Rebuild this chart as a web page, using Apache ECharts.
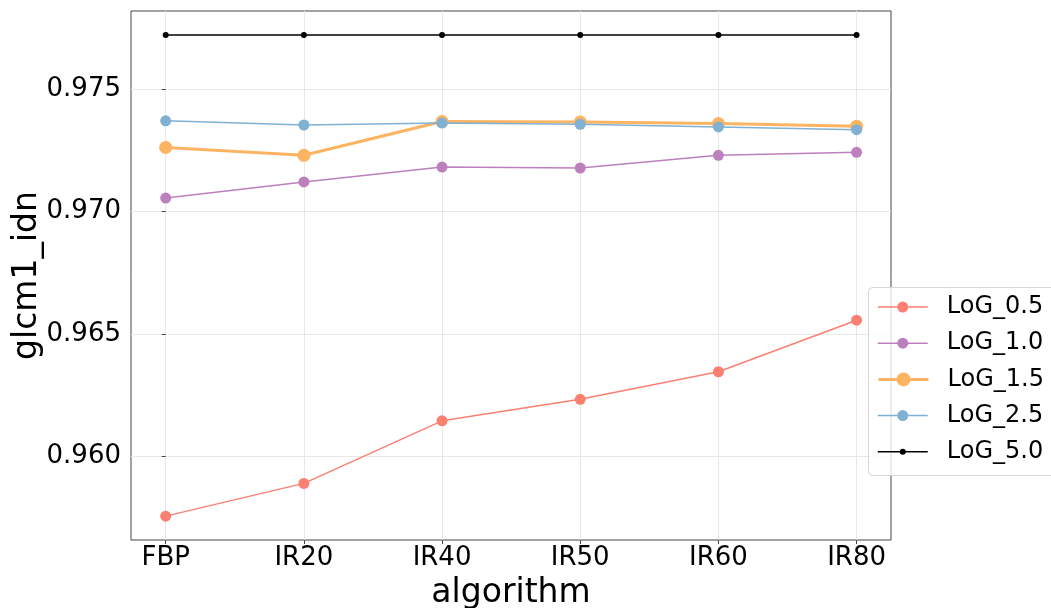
<!DOCTYPE html>
<html><head><meta charset="utf-8">
<script src="https://cdn.jsdelivr.net/npm/echarts@6/dist/echarts.min.js"></script>
<style>html,body{margin:0;padding:0;background:#fff}#c{width:1051px;height:608px}</style>
</head><body><div id="c"></div>
<script>
const categories = ["FBP", "IR20", "IR40", "IR50", "IR60", "IR80"];
const yTicks = [0.960, 0.965, 0.970, 0.975];
const log05 = [0.95754, 0.95888, 0.96144, 0.96232, 0.96345, 0.96556];
const log10 = [0.97056, 0.97122, 0.97183, 0.97179, 0.97231, 0.97243];
const log15 = [0.97263, 0.97231, 0.97369, 0.97367, 0.97361, 0.97350];
const log25 = [0.97372, 0.97355, 0.97363, 0.97358, 0.97347, 0.97336];
const log50 = [0.97723, 0.97723, 0.97723, 0.97723, 0.97723, 0.97723];
const seriesNames = ["LoG_0.5", "LoG_1.0", "LoG_1.5", "LoG_2.5", "LoG_5.0"];

const FONT = "DejaVu Sans";
const pts = arr => arr.map((v, i) => [i, v]);
const idx = categories.map((c, i) => i);

const styles = [
  {color: "#FB8072", lw: 1.5, sym: 11, legSym: 11},
  {color: "#BC80BD", lw: 1.5, sym: 11, legSym: 11},
  {color: "#FDB462", lw: 3, sym: 13, legSym: 14},
  {color: "#80B1D3", lw: 1.5, sym: 11, legSym: 11},
  {color: "#000000", lw: 1.5, sym: 6, legSym: 6}
];
const datas = [log05, log10, log15, log25, log50];

const series = datas.map((d, k) => ({
  name: seriesNames[k], type: "line", data: pts(d),
  symbol: "circle", symbolSize: styles[k].sym,
  lineStyle: {color: styles[k].color, width: styles[k].lw},
  itemStyle: {color: styles[k].color},
  emphasis: {disabled: true}, animation: false, z: 3 + k
}));

const legendTop = 287, legendFirst = 20, legendStep = 36.2;
const legends = seriesNames.map((n, k) => ({
  data: [{name: n, lineStyle: {width: styles[k].lw}}],
  orient: "vertical", left: 877, top: legendTop + legendFirst + k * legendStep - 12,
  padding: 0, itemWidth: 50, itemHeight: styles[k].legSym / 0.8,
  selectedMode: false, z: 12,
  textStyle: {fontFamily: FONT, fontSize: 24, color: "#000", padding: [0, 0, 0, 14], lineHeight: 24}
}));

const chart = echarts.init(document.getElementById("c"), null, {renderer: "canvas", width: 1051, height: 608});
chart.setOption({
  backgroundColor: "#fff",
  animation: false,
  grid: {left: 131, right: 160, top: 11, bottom: 68, show: true, borderColor: "#444", borderWidth: 1,
    containLabel: false, outerBoundsMode: "none"},
  xAxis: {
    type: "value", min: -0.251, max: 5.249,
    name: "algorithm", nameLocation: "middle", nameGap: 37, nameMoveOverlap: false,
    nameTextStyle: {fontFamily: FONT, fontSize: 33, color: "#000", verticalAlign: "top"},
    axisLine: {show: false},
    axisTick: {show: true, length: 4, lineStyle: {color: "#444"}, customValues: idx},
    axisLabel: {fontFamily: FONT, fontSize: 26, color: "#000", margin: 5, customValues: idx,
      formatter: v => categories[Math.round(v)] || ""},
    splitLine: {show: true, lineStyle: {color: "#e8e8e8", width: 1}}
  },
  yAxis: {
    type: "value", min: 0.956563, max: 0.978216,
    name: "glcm1_idn", nameLocation: "middle", nameGap: 87, nameMoveOverlap: false,
    nameTextStyle: {fontFamily: FONT, fontSize: 33, color: "#000"},
    axisLine: {show: false},
    axisTick: {show: true, length: 4, lineStyle: {color: "#444"}, customValues: yTicks},
    axisLabel: {fontFamily: FONT, fontSize: 26, color: "#000", margin: 10, customValues: yTicks,
      formatter: v => v.toFixed(3)},
    splitLine: {show: true, lineStyle: {color: "#e8e8e8", width: 1}}
  },
  graphic: [{
    type: "rect", left: 868, top: 287, z: 10,
    shape: {width: 200, height: 188, r: 4},
    style: {fill: "rgba(255,255,255,0.8)", stroke: "#d6d6d6", lineWidth: 1}
  }],
  legend: legends,
  series: series
});
</script></body></html>
